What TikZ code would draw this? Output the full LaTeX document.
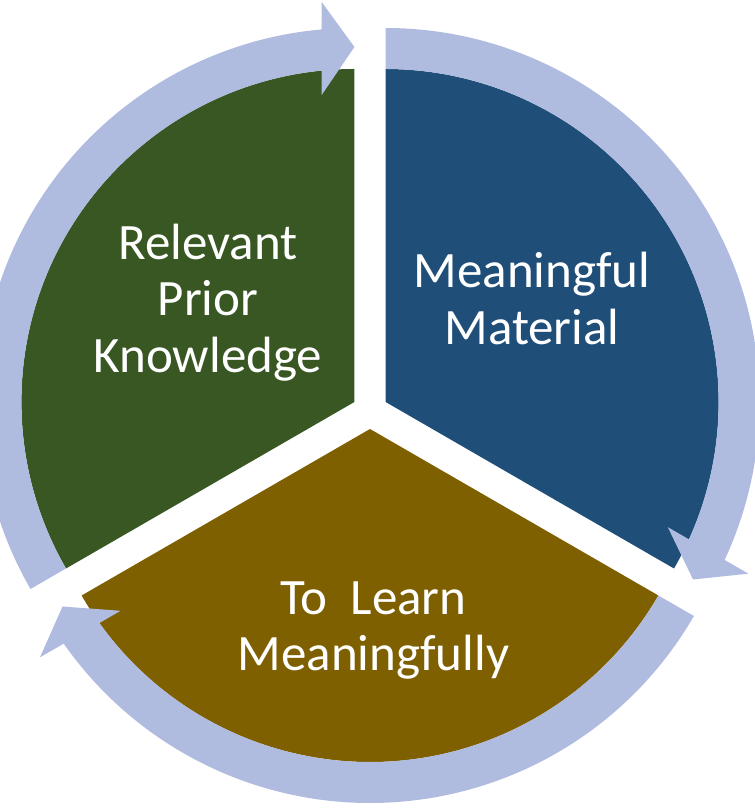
\documentclass[tikz,border=0pt]{standalone}
\usepackage{fontspec}
\setmainfont{Carlito}
\definecolor{secgreen}{HTML}{385723}
\definecolor{secblue}{HTML}{1F4E79}
\definecolor{secbrown}{HTML}{7F6000}
\definecolor{ringblue}{HTML}{B0BBE0}
\tikzset{
  lbl/.style={text=white, font=\fontsize{51}{56.5}\selectfont, inner sep=0pt, anchor=base},
  cyclearrow/.pic={
    \fill[ringblue] (210:333) arc[start angle=210,end angle=95.64,radius=333]
      -- (-32.7,307) -- (0,355) -- (-32.7,400) -- (95.02:374)
      arc[start angle=95.02,end angle=210,radius=374] -- cycle;
  }
}
\begin{document}
\begin{tikzpicture}[x=1pt,y=1pt]
\useasboundingbox (0,0) rectangle (755,809);
\coordinate (G) at (354.4,407);
\coordinate (B) at (385.6,407);
\coordinate (N) at (370,380);
% sectors
\fill[secgreen] (G) -- ++(90:333) arc[start angle=90,end angle=210,radius=333] -- cycle;
\fill[secblue] (B) -- ++(-30:333) arc[start angle=-30,end angle=90,radius=333] -- cycle;
\fill[secbrown] (N) -- ++(210:333) arc[start angle=210,end angle=330,radius=333] -- cycle;
% cycle arrows
\pic (arrG) at (G) {cyclearrow};
\pic[rotate=-120] (arrB) at (B) {cyclearrow};
\pic[rotate=120] (arrN) at (N) {cyclearrow};
% labels
\node[lbl] (rpk1) at (208,549.5) {Relevant};
\node[lbl] (rpk2) at (208,493) {Prior};
\node[lbl] (rpk3) at (208,436.5) {Knowledge};
\node[lbl] (mm1) at (532,521) {Meaningful};
\node[lbl] (mm2) at (532,464) {Material};
\node[lbl] (tlm1) at (373.5,194) {To\ \ Learn};
\node[lbl] (tlm2) at (373.5,138) {Meaningfully};
\end{tikzpicture}
\end{document}
